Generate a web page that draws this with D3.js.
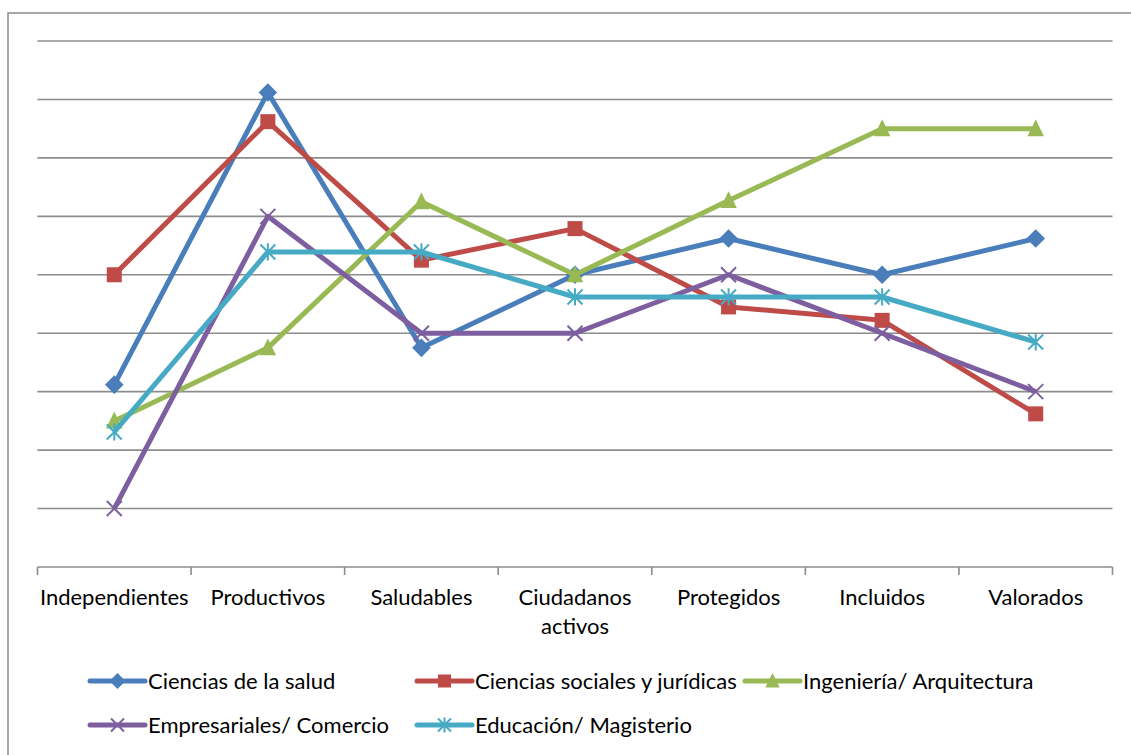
<!DOCTYPE html>
<html><head><meta charset="utf-8">
<script src="https://cdn.jsdelivr.net/npm/d3@7"></script>
<style>html,body{margin:0;padding:0;background:#fff;}svg{display:block;}</style>
</head><body>
<svg id="chart" width="1131" height="755"></svg>
<script>
const categories = ["Independientes","Productivos","Saludables","Ciudadanos activos","Protegidos","Incluidos","Valorados"];
const seriesNames = ["Ciencias de la salud","Ciencias sociales y jurídicas","Ingeniería/ Arquitectura","Empresariales/ Comercio","Educación/ Magisterio"];
const saludValues = [31.2, 81.2, 37.5, 50, 56.2, 50, 56.2];
const socialesValues = [50, 76.2, 52.5, 57.9, 44.5, 42.2, 26.2];
const ingenieriaValues = [25, 37.5, 62.5, 50, 62.7, 75, 75];
const empresarialesValues = [10, 60, 40, 40, 50, 40, 30];
const educacionValues = [23.1, 53.9, 53.9, 46.2, 46.2, 46.2, 38.5];
const yTicks = [0,10,20,30,40,50,60,70,80,90];

const colors = ["#4A7EBB","#BE4B48","#98B954","#7D5FA0","#46AAC5"];
const markers = ["diamond","square","triangle","x","star"];
const seriesValues = [saludValues, socialesValues, ingenieriaValues, empresarialesValues, educacionValues];

const svg = d3.select("#chart");
const FONT = "Lato, 'Open Sans', sans-serif";
const FS = 22;
const plotLeft = 37.5, plotRight = 1112.5, plotTop = 41, plotBottom = 567;

// outer border
svg.append("rect").attr("x",8).attr("y",13).attr("width",1140).attr("height",770)
  .attr("fill","none").attr("stroke","#8a8a8a").attr("stroke-width",1.5);

const x = d3.scaleBand().domain(categories).range([plotLeft,plotRight]).padding(0);
const y = d3.scaleLinear().domain([0,90]).range([plotBottom,plotTop]);

// gridlines
svg.append("g").selectAll("line").data(yTicks.filter(d=>d>0)).join("line")
  .attr("x1",plotLeft).attr("x2",plotRight).attr("y1",d=>y(d)).attr("y2",d=>y(d))
  .attr("stroke","#8c8c8c").attr("stroke-width",1.6);

// x axis
const xAxisG = svg.append("g").attr("transform",`translate(0,${plotBottom})`)
  .call(d3.axisBottom(x).tickSize(0).tickFormat(""));
xAxisG.select(".domain").attr("stroke","#8c8c8c").attr("stroke-width",1.6).attr("d",`M${plotLeft},0H${plotRight}`);
// boundary ticks
const bounds = categories.map(c=>x(c)).concat([plotRight]);
svg.append("g").selectAll("line").data(bounds).join("line")
  .attr("x1",d=>d).attr("x2",d=>d).attr("y1",plotBottom).attr("y2",plotBottom+8)
  .attr("stroke","#8c8c8c").attr("stroke-width",1.6);

// labels
const labG = svg.append("g");
categories.forEach(c=>{
  const cx = x(c)+x.bandwidth()/2;
  const words = c==="Ciudadanos activos" ? ["Ciudadanos","activos"] : [c];
  words.forEach((w,i)=>{
    labG.append("text").attr("x",cx).attr("y",605+i*29).attr("text-anchor","middle")
      .attr("font-family",FONT).attr("font-size",FS).attr("fill","#000").text(w);
  });
});

function drawMarker(g, type, color, cx, cy, s){
  if(type==="diamond"){
    const r=s*0.62;
    g.append("path").attr("d",`M${cx},${cy-r}L${cx+r},${cy}L${cx},${cy+r}L${cx-r},${cy}Z`).attr("fill",color);
  } else if(type==="square"){
    g.append("rect").attr("x",cx-s/2).attr("y",cy-s/2).attr("width",s).attr("height",s).attr("fill",color);
  } else if(type==="triangle"){
    const h=s*1.0;
    g.append("path").attr("d",`M${cx},${cy-h*0.62}L${cx+s*0.55},${cy+h*0.5}L${cx-s*0.55},${cy+h*0.5}Z`).attr("fill",color);
  } else if(type==="x"){
    const r=s*0.5;
    g.append("path").attr("d",`M${cx-r},${cy-r}L${cx+r},${cy+r}M${cx-r},${cy+r}L${cx+r},${cy-r}`).attr("stroke",color).attr("stroke-width",2);
  } else if(type==="star"){
    const r=s*0.5;
    g.append("path").attr("d",`M${cx-r},${cy-r}L${cx+r},${cy+r}M${cx-r},${cy+r}L${cx+r},${cy-r}M${cx},${cy-r*1.15}L${cx},${cy+r*1.15}`).attr("stroke",color).attr("stroke-width",2);
  }
}

const line = d3.line().x((d,i)=>x(categories[i])+x.bandwidth()/2).y(d=>y(d));
seriesValues.forEach((vals,si)=>{
  const g = svg.append("g");
  g.append("path").datum(vals).attr("d",line).attr("fill","none")
    .attr("stroke",colors[si]).attr("stroke-width",5).attr("stroke-linejoin","round");
  vals.forEach((v,i)=>{
    drawMarker(g, markers[si], colors[si], x(categories[i])+x.bandwidth()/2, y(v), 15);
  });
});

// legend
const legendPos = [[90,681],[417,681],[745,681],[90,725],[417,725]];
seriesNames.forEach((n,i)=>{
  const [lx,ly] = legendPos[i];
  const g = svg.append("g");
  g.append("line").attr("x1",lx).attr("x2",lx+55).attr("y1",ly).attr("y2",ly)
    .attr("stroke",colors[i]).attr("stroke-width",5).attr("stroke-linecap","round");
  drawMarker(g, markers[i], colors[i], lx+27.5, ly, 13);
  g.append("text").attr("x",lx+58).attr("y",ly+7.5).attr("font-family",FONT).attr("font-size",FS)
    .attr("fill","#000").text(n);
});
</script>
</body></html>
